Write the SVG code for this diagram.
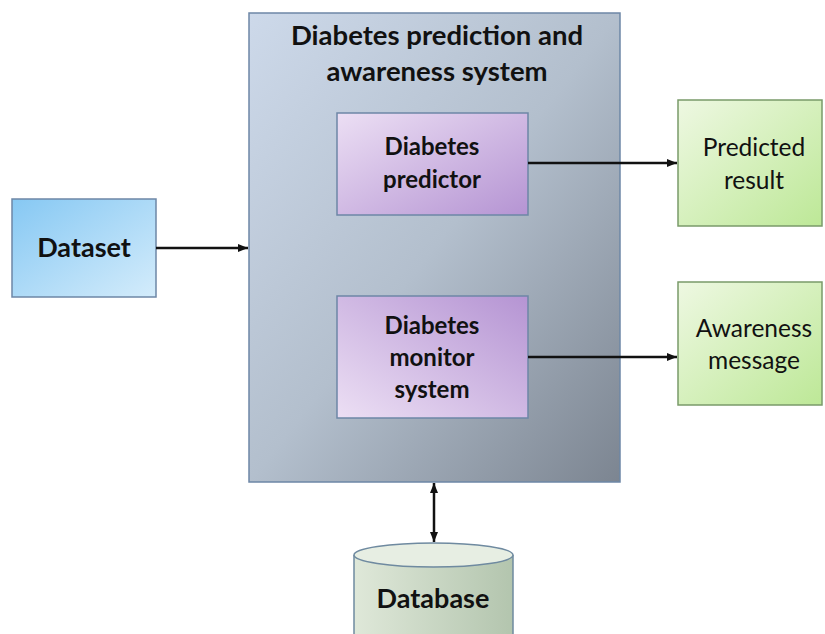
<svg xmlns="http://www.w3.org/2000/svg" width="825" height="634" viewBox="0 0 825 634">
<defs>
<linearGradient id="gMain" x1="0" y1="0" x2="1" y2="1"><stop offset="0" stop-color="#cdd9ea"/><stop offset="0.5" stop-color="#b3bfcd"/><stop offset="1" stop-color="#7c8591"/></linearGradient>
<linearGradient id="gData" x1="0" y1="0" x2="1" y2="1"><stop offset="0" stop-color="#86c8f3"/><stop offset="1" stop-color="#d4ecfb"/></linearGradient>
<linearGradient id="gPur1" x1="0" y1="0" x2="1" y2="1"><stop offset="0" stop-color="#ecdff4"/><stop offset="1" stop-color="#b594d3"/></linearGradient>
<linearGradient id="gPur2" x1="1" y1="0" x2="0" y2="1"><stop offset="0" stop-color="#b594d3"/><stop offset="1" stop-color="#ecdff4"/></linearGradient>
<linearGradient id="gGreen" x1="0" y1="0" x2="1" y2="1"><stop offset="0" stop-color="#eef8e2"/><stop offset="1" stop-color="#bde897"/></linearGradient>
<linearGradient id="gDb" x1="0" y1="0" x2="1" y2="0"><stop offset="0" stop-color="#dfe8d9"/><stop offset="1" stop-color="#b3c5ae"/></linearGradient>
<marker id="ah" viewBox="0 0 10 10" refX="10" refY="5" markerWidth="10" markerHeight="10" markerUnits="userSpaceOnUse" orient="auto-start-reverse"><path d="M0,1 L10,5 L0,9 z" fill="#111"/></marker>
</defs>
<style>
.b{stroke:#6d87a6;stroke-width:1.5}
.t{font-family:Lato,"Open Sans",sans-serif;fill:#111;text-anchor:middle}
.bold{font-weight:bold}
.c{stroke:#111;stroke-width:2.5;fill:none}
</style>
<g id="main">
<rect x="249" y="13" width="371" height="469" fill="url(#gMain)" class="b"/>
<text class="t bold" x="437" y="45" font-size="27.5">Diabetes prediction and</text>
<text class="t bold" x="437" y="81" font-size="27.5">awareness system</text>
</g>
<g id="dataset">
<rect x="12" y="199" width="144" height="98" fill="url(#gData)" class="b"/>
<text class="t bold" x="84" y="257" font-size="27">Dataset</text>
</g>
<g id="predictor">
<rect x="337" y="113" width="191" height="102" fill="url(#gPur1)" class="b"/>
<text class="t bold" x="432" y="155" font-size="24">Diabetes</text>
<text class="t bold" x="432" y="188" font-size="24">predictor</text>
</g>
<g id="monitor">
<rect x="337" y="296" width="191" height="122" fill="url(#gPur2)" class="b"/>
<text class="t bold" x="432" y="334" font-size="24">Diabetes</text>
<text class="t bold" x="432" y="366" font-size="24">monitor</text>
<text class="t bold" x="432" y="398" font-size="24">system</text>
</g>
<g id="predicted">
<rect x="678" y="100" width="144" height="126" fill="url(#gGreen)" stroke="#7a9a6a" stroke-width="1.5"/>
<text class="t" x="754" y="156" font-size="24.5">Predicted</text>
<text class="t" x="754" y="189" font-size="24.5">result</text>
</g>
<g id="awareness">
<rect x="678" y="282" width="144" height="123" fill="url(#gGreen)" stroke="#7a9a6a" stroke-width="1.5"/>
<text class="t" x="754" y="337" font-size="24.5">Awareness</text>
<text class="t" x="754" y="369" font-size="24.5">message</text>
</g>
<g id="database">
<path d="M354,555 L354,640 L513,640 L513,555" fill="url(#gDb)" stroke="#6f8aa0" stroke-width="1.5"/>
<ellipse cx="433.5" cy="555" rx="79.5" ry="12" fill="#e7eee3" stroke="#6f8aa0" stroke-width="1.5"/>
<text class="t bold" x="433" y="608" font-size="27">Database</text>
</g>
<g id="connectors">
<line x1="156" y1="248" x2="248" y2="248" class="c" marker-end="url(#ah)"/>
<line x1="528" y1="163" x2="677" y2="163" class="c" marker-end="url(#ah)"/>
<line x1="528" y1="357" x2="677" y2="357" class="c" marker-end="url(#ah)"/>
<line x1="434" y1="483" x2="434" y2="542" class="c" marker-start="url(#ah)" marker-end="url(#ah)"/>
</g>
</svg>
